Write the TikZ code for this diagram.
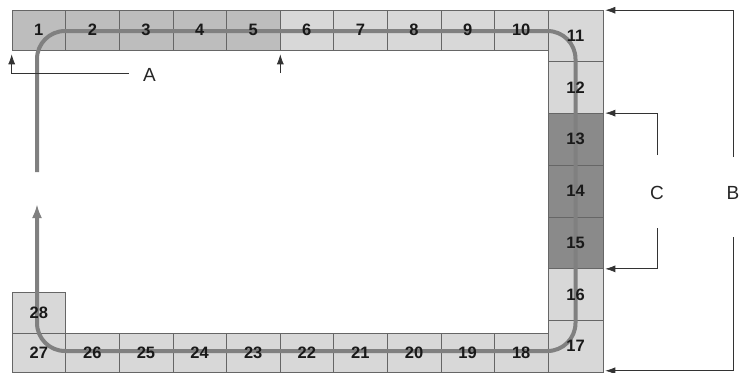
\documentclass[tikz,border=0pt]{standalone}
\usepackage{fontspec}
\setmainfont{Liberation Sans}
\usetikzlibrary{positioning,arrows.meta}

\definecolor{cellmid}{HTML}{BDBDBD}
\definecolor{cellpale}{HTML}{D8D8D8}
\definecolor{celldark}{HTML}{8A8A8A}

\tikzset{
  cell/.style={draw=black!60, line width=0.6pt, inner sep=0pt,
    minimum width=53.6pt, minimum height=40pt},
  num/.style={font=\fontsize{16.5}{16.5}\selectfont\bfseries, text=black!90, inner sep=0pt},
  track/.style={draw=black!50, line width=4pt, rounded corners=28pt},
  dim/.style={draw=black!80, line width=0.7pt},
  lbl/.style={font=\fontsize{19}{19}\selectfont, text=black!85, inner sep=0pt},
  tip/.style={-{Latex[length=10pt,width=7pt]}}
}

\begin{document}
\begin{tikzpicture}[x=1pt, y=-1pt]
  \useasboundingbox (0,0) rectangle (746,372);

  % top row, cells 1 to 10
  \foreach \i in {1,...,5}
    \node[cell, fill=cellmid] (c\i) at ({12+(\i-0.5)*53.6}, 30) {};
  \foreach \i in {6,...,10}
    \node[cell, fill=cellpale] (c\i) at ({12+(\i-0.5)*53.6}, 30) {};

  % right column, cells 11 to 17
  \foreach \i/\shade in {11/cellpale, 12/cellpale, 13/celldark, 14/celldark,
                         15/celldark, 16/cellpale, 17/cellpale}
    \node[cell, fill=\shade, minimum width=55pt, minimum height=51.7pt]
      (c\i) at (575.5, {10+(\i-10.5)*51.71}) {};

  % bottom row, cells 18 to 27, and 28 on top of 27
  \foreach \i in {18,...,27}
    \node[cell, fill=cellpale, minimum height=39pt]
      (c\i) at ({12+(27-\i+0.5)*53.6}, 352.5) {};
  \node[cell, fill=cellpale, minimum height=41pt] (c28) at (38.8, 312.5) {};

  % track round the loop
  \draw[track, -{Latex[length=14pt,width=10pt]}]
    (37,172) -- (37,31) -- (575.5,31) -- (575.5,351) -- (37,351) -- (37,204);

  % cell numbers
  \foreach \i in {1,...,28}
    \node[num] (n\i) at (c\i) {\i};

  % A: cells 1 to 5
  \coordinate (aL) at ([yshift=-4pt]c1.south west);
  \coordinate (aR) at ([yshift=-4pt]c5.south east);
  \node[lbl] (A) at (149.5,75) {A};
  \draw[dim, tip] ([xshift=-14pt, yshift=2pt]A.west) -| (aL);
  \draw[dim, tip] ([yshift=2pt]aR |- A.west) -- (aR);

  % B: cells 11 to 17
  \coordinate (bT) at ([xshift=2pt, yshift=-0.5pt]c11.north east);
  \coordinate (bB) at ([xshift=2pt, yshift=1.5pt]c17.south east);
  \node[lbl] (B) at (733,193) {B};
  \draw[dim, tip] ([yshift=36pt]B.center) |- (bT);
  \draw[dim, tip] ([yshift=-44pt]B.center) |- (bB);

  % C: cells 13 to 15
  \coordinate (cT) at ([xshift=2pt]c13.north east);
  \coordinate (cB) at ([xshift=2pt]c15.south east);
  \node[lbl] (C) at (657,193) {C};
  \draw[dim, tip] ([yshift=38pt]C.center) |- (cT);
  \draw[dim, tip] ([yshift=-35pt]C.center) |- (cB);
\end{tikzpicture}
\end{document}
